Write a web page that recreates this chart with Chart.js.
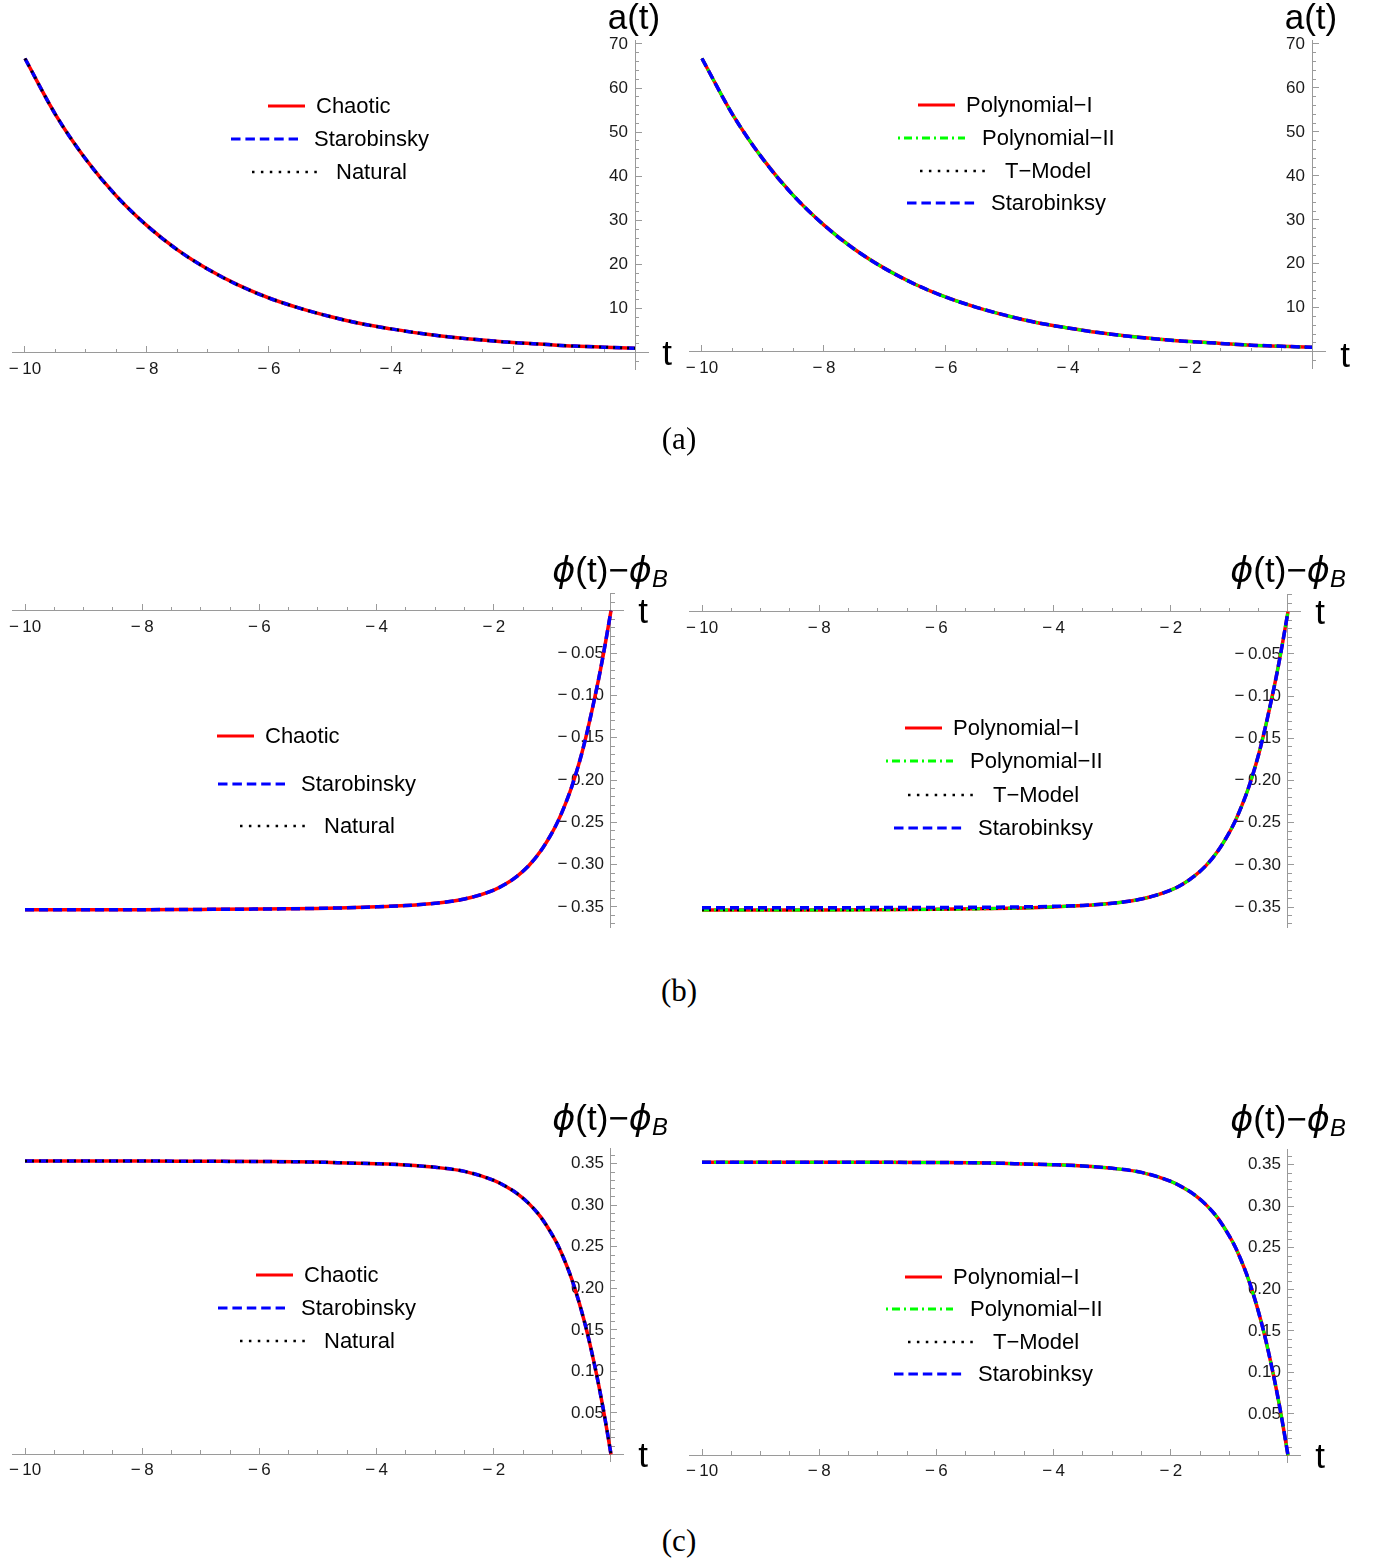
<!DOCTYPE html>
<html><head><meta charset="utf-8"><title>a(t) and φ(t)−φB</title>
<script src="https://cdn.jsdelivr.net/npm/chart.js@4.4.1/dist/chart.umd.min.js"></script>
<style>
html,body{margin:0;padding:0;background:#fff;}
body{width:1379px;height:1562px;position:relative;overflow:hidden;font-family:"Liberation Sans",Arial,sans-serif;color:#000;}
canvas.panel{position:absolute;}
.ttl{position:absolute;transform:translate(-50%,-50%);white-space:nowrap;font-size:35px;line-height:1;}
.ttl .ph{font-family:"DejaVu Sans",sans-serif;font-style:italic;}
.ttl sub{font-size:68%;vertical-align:-0.22em;line-height:0;font-style:italic;}
.cap{position:absolute;transform:translate(-50%,-50%);font-family:"Liberation Serif","DejaVu Serif",serif;font-size:31px;line-height:1;}
.row{position:absolute;display:flex;align-items:center;transform:translateY(-50%);white-space:nowrap;font-size:22px;line-height:1;}
.row svg{display:block;}
</style></head><body>
<script>
// ---------- DATA ----------
// time grid for a(t)
const tA = [-10,-9.5,-9,-8.5,-8,-7.5,-7,-6.5,-6,-5.5,-5,-4.5,-4,-3.5,-3,-2.5,-2,-1.5,-1,-0.5,0];
// panel (a) left
const aChaotic     = [66.7,54.0,43.8,35.5,28.8,23.3,18.9,15.3,12.4,10.1,8.2,6.6,5.4,4.35,3.5,2.85,2.3,1.9,1.5,1.25,1.0];
const aStarobinsky = [66.7,54.0,43.8,35.5,28.8,23.3,18.9,15.3,12.4,10.1,8.2,6.6,5.4,4.35,3.5,2.85,2.3,1.9,1.5,1.25,1.0];
const aNatural     = [66.7,54.0,43.8,35.5,28.8,23.3,18.9,15.3,12.4,10.1,8.2,6.6,5.4,4.35,3.5,2.85,2.3,1.9,1.5,1.25,1.0];
// panel (a) right
const aPolyI       = [66.7,54.0,43.8,35.5,28.8,23.3,18.9,15.3,12.4,10.1,8.2,6.6,5.4,4.35,3.5,2.85,2.3,1.9,1.5,1.25,1.0];
const aPolyII      = [66.7,54.0,43.8,35.5,28.8,23.3,18.9,15.3,12.4,10.1,8.2,6.6,5.4,4.35,3.5,2.85,2.3,1.9,1.5,1.25,1.0];
const aTModel      = [66.7,54.0,43.8,35.5,28.8,23.3,18.9,15.3,12.4,10.1,8.2,6.6,5.4,4.35,3.5,2.85,2.3,1.9,1.5,1.25,1.0];
const aStarobinksy = [66.7,54.0,43.8,35.5,28.8,23.3,18.9,15.3,12.4,10.1,8.2,6.6,5.4,4.35,3.5,2.85,2.3,1.9,1.5,1.25,1.0];

// time grid for φ(t)−φB
const tPhi = [-10,-9,-8,-7,-6,-5,-4.5,-4,-3.5,-3,-2.5,-2,-1.8,-1.6,-1.4,-1.2,-1,-0.9,-0.8,-0.7,-0.6,-0.5,-0.4,-0.3,-0.2,-0.1,0];
// panel (b) left
const bChaotic     = [-0.3532,-0.3532,-0.3532,-0.3529,-0.3525,-0.3517,-0.351,-0.3499,-0.3483,-0.3456,-0.3406,-0.330,-0.323,-0.3135,-0.301,-0.284,-0.2615,-0.248,-0.232,-0.214,-0.193,-0.169,-0.141,-0.110,-0.077,-0.040,0];
const bStarobinsky = [-0.3532,-0.3532,-0.3532,-0.3529,-0.3525,-0.3517,-0.351,-0.3499,-0.3483,-0.3456,-0.3406,-0.330,-0.323,-0.3135,-0.301,-0.284,-0.2615,-0.248,-0.232,-0.214,-0.193,-0.169,-0.141,-0.110,-0.077,-0.040,0];
const bNatural     = [-0.3532,-0.3532,-0.3532,-0.3529,-0.3525,-0.3517,-0.351,-0.3499,-0.3483,-0.3456,-0.3406,-0.330,-0.323,-0.3135,-0.301,-0.284,-0.2615,-0.248,-0.232,-0.214,-0.193,-0.169,-0.141,-0.110,-0.077,-0.040,0];
// panel (b) right
const bPolyI       = [-0.3536,-0.3536,-0.3536,-0.3533,-0.3528,-0.3519,-0.3511,-0.3499,-0.3483,-0.3456,-0.3406,-0.330,-0.323,-0.3135,-0.301,-0.284,-0.2615,-0.248,-0.232,-0.214,-0.193,-0.169,-0.141,-0.110,-0.077,-0.040,0];
const bPolyII      = [-0.3536,-0.3536,-0.3536,-0.3533,-0.3528,-0.3519,-0.3511,-0.3499,-0.3483,-0.3456,-0.3406,-0.330,-0.323,-0.3135,-0.301,-0.284,-0.2615,-0.248,-0.232,-0.214,-0.193,-0.169,-0.141,-0.110,-0.077,-0.040,0];
const bTModel      = [-0.3536,-0.3536,-0.3536,-0.3533,-0.3528,-0.3519,-0.3511,-0.3499,-0.3483,-0.3456,-0.3406,-0.330,-0.323,-0.3135,-0.301,-0.284,-0.2615,-0.248,-0.232,-0.214,-0.193,-0.169,-0.141,-0.110,-0.077,-0.040,0];
const bStarobinksy = [-0.3508,-0.3508,-0.3508,-0.3507,-0.3505,-0.3502,-0.3498,-0.3492,-0.3481,-0.3456,-0.3406,-0.330,-0.323,-0.3135,-0.301,-0.284,-0.2615,-0.248,-0.232,-0.214,-0.193,-0.169,-0.141,-0.110,-0.077,-0.040,0];
// panel (c) left
const cChaotic     = [0.3533,0.3533,0.3533,0.353,0.3527,0.352,0.351,0.350,0.3485,0.3458,0.3408,0.330,0.323,0.314,0.302,0.286,0.264,0.251,0.235,0.217,0.196,0.172,0.145,0.114,0.080,0.042,0];
const cStarobinsky = [0.3533,0.3533,0.3533,0.353,0.3527,0.352,0.351,0.350,0.3485,0.3458,0.3408,0.330,0.323,0.314,0.302,0.286,0.264,0.251,0.235,0.217,0.196,0.172,0.145,0.114,0.080,0.042,0];
const cNatural     = [0.3533,0.3533,0.3533,0.353,0.3527,0.352,0.351,0.350,0.3485,0.3458,0.3408,0.330,0.323,0.314,0.302,0.286,0.264,0.251,0.235,0.217,0.196,0.172,0.145,0.114,0.080,0.042,0];
// panel (c) right
const cPolyI       = [0.3531,0.3531,0.3531,0.353,0.3527,0.352,0.351,0.350,0.3485,0.3458,0.3408,0.330,0.323,0.314,0.302,0.286,0.264,0.251,0.235,0.217,0.196,0.172,0.145,0.114,0.080,0.042,0];
const cPolyII      = [0.3531,0.3531,0.3531,0.353,0.3527,0.352,0.351,0.350,0.3485,0.3458,0.3408,0.330,0.323,0.314,0.302,0.286,0.264,0.251,0.235,0.217,0.196,0.172,0.145,0.114,0.080,0.042,0];
const cTModel      = [0.3531,0.3531,0.3531,0.353,0.3527,0.352,0.351,0.350,0.3485,0.3458,0.3408,0.330,0.323,0.314,0.302,0.286,0.264,0.251,0.235,0.217,0.196,0.172,0.145,0.114,0.080,0.042,0];
const cStarobinksy = [0.3531,0.3531,0.3531,0.353,0.3527,0.352,0.351,0.350,0.3485,0.3458,0.3408,0.330,0.323,0.314,0.302,0.286,0.264,0.251,0.235,0.217,0.196,0.172,0.145,0.114,0.080,0.042,0];

// tick values and labels
const tTickVals   = [-10,-8,-6,-4,-2];
const tTickLabels = ['−\u200910','−\u20098','−\u20096','−\u20094','−\u20092'];
const tMinorStep  = 0.5;
const aTickVals   = [10,20,30,40,50,60,70];
const aTickLabels = ['10','20','30','40','50','60','70'];
const aMinorStep  = 2;
const bTickVals   = [-0.35,-0.30,-0.25,-0.20,-0.15,-0.10,-0.05];
const bTickLabels = ['−\u20090.35','−\u20090.30','−\u20090.25','−\u20090.20','−\u20090.15','−\u20090.10','−\u20090.05'];
const cTickVals   = [0.05,0.10,0.15,0.20,0.25,0.30,0.35];
const cTickLabels = ['0.05','0.10','0.15','0.20','0.25','0.30','0.35'];
const phiMinorStep = 0.01;

// legend names
const leftNames  = ['Chaotic','Starobinsky','Natural'];
const rightNames = ['Polynomial−I','Polynomial−II','T−Model','Starobinksy'];

// ---------- STYLES / LAYOUT ----------
const FONT = "'Liberation Sans', Arial, sans-serif";
const AXIS = '#9a9a9a';
const P = 40;
const LABEL_GAP_PX = 7;
const ST = {
  red:   {color:'#ff0000', width:3.5, dash:[],          svgDash:'',          svgW:3},
  blue:  {color:'#0000ff', width:3.5, dash:[9,5],       svgDash:'9.5,4.9',   svgW:3},
  black: {color:'#000000', width:2.5, dash:[2,5],       svgDash:'2.5,6.4',   svgW:2.5},
  green: {color:'#00ff00', width:3,   dash:[8,4,2,4],   svgDash:'2,4,8,4',   svgW:3}
};

function between(lo, hi, step){
  const out=[]; const s=Math.ceil(lo/step-1e-9), e=Math.floor(hi/step+1e-9);
  for(let k=s;k<=e;k++) out.push(+(k*step).toFixed(6));
  return out;
}
function labelFor(v, vals, labels){
  for(let i=0;i<vals.length;i++) if(Math.abs(vals[i]-v)<1e-9) return labels[i];
  return '';
}
function ds(label, ts, vs, st, order){
  return {label, data: ts.map((t,i)=>({x:t,y:vs[i]})), borderColor:st.color, backgroundColor:st.color,
    borderWidth:st.width, borderDash:st.dash, pointRadius:0, fill:false, cubicInterpolationMode:'monotone', order};
}

function panel(spec, datasets, yVals, yLabels, yStep){
  const kx=(spec.x0-spec.x10)/10, ky=(spec.yRef-spec.y0)/spec.vRef;
  const left=spec.x10+(spec.xLo+10)*kx, right=spec.x10+(spec.xHi+10)*kx;
  const top=spec.y0+spec.yHi*ky, bottom=spec.y0+spec.yLo*ky;
  const w=Math.round(right-left)+2*P, h=Math.round(bottom-top)+2*P;
  const cv=document.createElement('canvas');
  cv.className='panel'; cv.width=w; cv.height=h;
  cv.style.left=(Math.round(left)-P)+'px'; cv.style.top=(Math.round(top)-P)+'px';
  cv.style.width=w+'px'; cv.style.height=h+'px';
  document.body.appendChild(cv);
  const tickFont={family:FONT,size:17};
  const xMinor=between(spec.xLo,spec.xHi,tMinorStep);
  const yMinor=between(spec.yLo,spec.yHi,yStep);
  const labelShift = -LABEL_GAP_PX/kx;   // y tick labels sit a few pixels left of the y axis
  new Chart(cv,{
    type:'line',
    data:{datasets},
    options:{
      responsive:false, animation:false, events:[],
      layout:{padding:P},
      plugins:{legend:{display:false}, tooltip:{enabled:false}},
      scales:{
        x:{type:'linear',min:spec.xLo,max:spec.xHi,position:{y:0},
           border:{display:true,color:AXIS,width:1},
           grid:{display:true,drawOnChartArea:false,drawTicks:true,tickLength:-7,tickColor:AXIS,color:AXIS},
           ticks:{autoSkip:false,maxRotation:0,padding:13,font:tickFont,color:'#1a1a1a',
                  callback:(v)=>labelFor(v,tTickVals,tTickLabels)},
           afterBuildTicks:(s)=>{s.ticks=tTickVals.map(v=>({value:v}));}},
        xm:{type:'linear',min:spec.xLo,max:spec.xHi,position:{y:0},
           border:{display:false},
           grid:{display:true,drawOnChartArea:false,drawTicks:true,tickLength:-4,tickColor:AXIS,color:AXIS},
           ticks:{autoSkip:false,maxRotation:0,padding:0,font:{size:1},callback:()=>''},
           afterBuildTicks:(s)=>{s.ticks=xMinor.map(v=>({value:v}));}},
        // y: value scale carrying the tick labels
        y:{type:'linear',min:spec.yLo,max:spec.yHi,position:{x:labelShift},
           border:{display:false},
           grid:{display:false},
           ticks:{autoSkip:false,padding:0,font:tickFont,color:'#1a1a1a',
                  callback:(v)=>labelFor(v,yVals,yLabels)},
           afterBuildTicks:(s)=>{s.ticks=yVals.map(v=>({value:v}));}},
        // yb: axis line + major ticks at t = 0
        yb:{type:'linear',min:spec.yLo,max:spec.yHi,position:{x:0},
           border:{display:true,color:AXIS,width:1},
           grid:{display:true,drawOnChartArea:false,drawTicks:true,tickLength:-7,tickColor:AXIS,color:AXIS},
           ticks:{autoSkip:false,padding:0,font:{size:1},callback:()=>''},
           afterBuildTicks:(s)=>{s.ticks=yVals.map(v=>({value:v}));}},
        ym:{type:'linear',min:spec.yLo,max:spec.yHi,position:{x:0},
           border:{display:false},
           grid:{display:true,drawOnChartArea:false,drawTicks:true,tickLength:-4,tickColor:AXIS,color:AXIS},
           ticks:{autoSkip:false,padding:0,font:{size:1},callback:()=>''},
           afterBuildTicks:(s)=>{s.ticks=yMinor.map(v=>({value:v}));}}
      }
    }
  });
}

function el(cls, html, x, y){
  const d=document.createElement('div'); d.className=cls; d.innerHTML=html;
  d.style.left=x+'px'; d.style.top=y+'px'; document.body.appendChild(d); return d;
}
function legendRow(x, y, text, st, len, gap){
  const svg=`<svg width="${len}" height="8"><line x1="0" y1="4" x2="${len}" y2="4" stroke="${st.color}" stroke-width="${st.svgW}"${st.svgDash?` stroke-dasharray="${st.svgDash}"`:''}/></svg>`;
  el('row', svg+`<span style="margin-left:${gap}px">${text}</span>`, x, y);
}
const PHI = '<span class="ph">ϕ</span>(t)−<span class="ph">ϕ</span><sub>B</sub>';

// ---------- PANELS ----------
const specLA={x10:25, x0:635, y0:353, vRef:70, yRef:44, xLo:-10.213, xHi:0.213, yLo:-3.7, yHi:70.9};
const specRA={x10:702,x0:1312,y0:352, vRef:70, yRef:44, xLo:-10.213, xHi:0.213, yLo:-3.7, yHi:70.9};
const specLB={x10:25, x0:611, y0:611, vRef:-0.35, yRef:907, xLo:-10.222, xHi:0.205, yLo:-0.3737, yHi:0.021};
const specRB={x10:702,x0:1288,y0:612, vRef:-0.35, yRef:907, xLo:-10.222, xHi:0.205, yLo:-0.3737, yHi:0.021};
const specLC={x10:25, x0:611, y0:1455,vRef:0.35, yRef:1164, xLo:-10.222, xHi:0.205, yLo:-0.008, yHi:0.369};
const specRC={x10:702,x0:1288,y0:1456,vRef:0.35, yRef:1165, xLo:-10.222, xHi:0.205, yLo:-0.008, yHi:0.369};

panel(specLA,[ds(leftNames[0],tA,aChaotic,ST.red,3), ds(leftNames[1],tA,aStarobinsky,ST.blue,2), ds(leftNames[2],tA,aNatural,ST.black,1)], aTickVals,aTickLabels,aMinorStep);
panel(specRA,[ds(rightNames[0],tA,aPolyI,ST.red,4), ds(rightNames[1],tA,aPolyII,ST.green,3), ds(rightNames[2],tA,aTModel,ST.black,2), ds(rightNames[3],tA,aStarobinksy,ST.blue,1)], aTickVals,aTickLabels,aMinorStep);
panel(specLB,[ds(leftNames[0],tPhi,bChaotic,ST.red,2), ds(leftNames[1],tPhi,bStarobinsky,ST.blue,1), ds(leftNames[2],tPhi,bNatural,ST.black,3)], bTickVals,bTickLabels,phiMinorStep);
panel(specRB,[ds(rightNames[0],tPhi,bPolyI,ST.red,4), ds(rightNames[1],tPhi,bPolyII,ST.green,3), ds(rightNames[2],tPhi,bTModel,ST.black,2), ds(rightNames[3],tPhi,bStarobinksy,ST.blue,1)], bTickVals,bTickLabels,phiMinorStep);
panel(specLC,[ds(leftNames[0],tPhi,cChaotic,ST.red,3), ds(leftNames[1],tPhi,cStarobinsky,ST.blue,2), ds(leftNames[2],tPhi,cNatural,ST.black,1)], cTickVals,cTickLabels,phiMinorStep);
panel(specRC,[ds(rightNames[0],tPhi,cPolyI,ST.red,4), ds(rightNames[1],tPhi,cPolyII,ST.green,3), ds(rightNames[2],tPhi,cTModel,ST.black,2), ds(rightNames[3],tPhi,cStarobinksy,ST.blue,1)], cTickVals,cTickLabels,phiMinorStep);

// ---------- AXIS TITLES ----------
el('ttl','a(t)',634,16);   el('ttl','t',667,352);
el('ttl','a(t)',1311,16);  el('ttl','t',1345,354);
el('ttl',PHI,610,570);     el('ttl','t',643,610);
el('ttl',PHI,1288,570);    el('ttl','t',1320,611);
el('ttl',PHI,610,1118);    el('ttl','t',643,1454);
el('ttl',PHI,1288,1119);   el('ttl','t',1320,1455);

// ---------- LEGENDS ----------
const leftSt=[ST.red,ST.blue,ST.black], rightSt=[ST.red,ST.green,ST.black,ST.blue];
const leftLen=[37,67,68], rightLen=[37,67,70,68], leftGap=[11,16,16], rightGap=[11,17,15,16];
[[268,106],[231,139],[252,172]].forEach((p,i)=>legendRow(p[0],p[1],leftNames[i],leftSt[i],leftLen[i],leftGap[i]));
[[918,105],[898,138],[920,171],[907,203]].forEach((p,i)=>legendRow(p[0],p[1],rightNames[i],rightSt[i],rightLen[i],rightGap[i]));
[[217,736],[218,784],[240,826]].forEach((p,i)=>legendRow(p[0],p[1],leftNames[i],leftSt[i],leftLen[i],leftGap[i]));
[[905,728],[886,761],[908,795],[894,828]].forEach((p,i)=>legendRow(p[0],p[1],rightNames[i],rightSt[i],rightLen[i],rightGap[i]));
[[256,1275],[218,1308],[240,1341]].forEach((p,i)=>legendRow(p[0],p[1],leftNames[i],leftSt[i],leftLen[i],leftGap[i]));
[[905,1277],[886,1309],[908,1342],[894,1374]].forEach((p,i)=>legendRow(p[0],p[1],rightNames[i],rightSt[i],rightLen[i],rightGap[i]));

// ---------- CAPTIONS ----------
el('cap','(a)',679,438);
el('cap','(b)',679,990);
el('cap','(c)',679,1540);
</script>
</body></html>
